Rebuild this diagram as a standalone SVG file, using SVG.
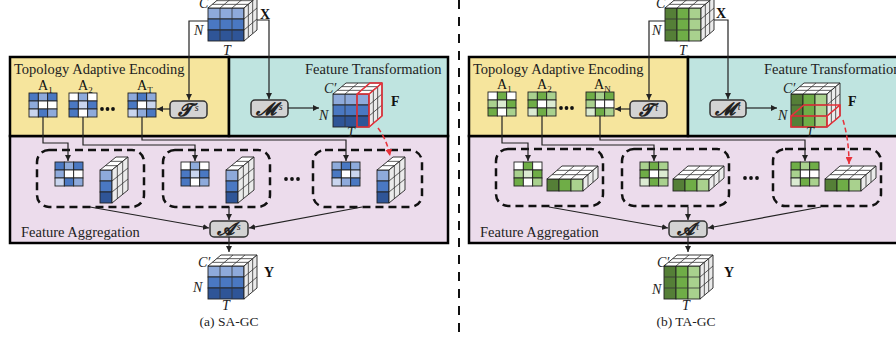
<svg xmlns="http://www.w3.org/2000/svg" xmlns:xlink="http://www.w3.org/1999/xlink" width="896" height="339" viewBox="0 0 896 339">
<style>
  .py{fill:#f6e59d;stroke:#000;stroke-width:2.5}
  .pt{fill:#bfe4e0;stroke:#000;stroke-width:2.5}
  .pp{fill:#ecdcec;stroke:#000;stroke-width:2.5}
  .ttl{font-family:"Liberation Serif",serif;font-size:14.5px;fill:#222}
  .it{font-family:"Liberation Serif",serif;font-size:14px;font-style:italic;fill:#222}
  .bd{font-family:"Liberation Serif",serif;font-size:14px;font-weight:bold;fill:#111}
  .cap{font-family:"Liberation Serif",serif;font-size:13.5px;fill:#222;text-anchor:middle}
  .am{font-family:"Liberation Serif",serif;font-size:14px;fill:#111}
  .sub{font-size:9px}
  .op{fill:#d3d3d3;stroke:#333;stroke-width:1.5}
  .opt{font-family:"DejaVu Serif","Liberation Serif",serif;font-size:18px;font-weight:bold;font-style:italic;fill:#222;text-anchor:middle}
  .sup{font-family:"Liberation Serif",serif;font-size:10px;font-weight:normal}
  .grp{fill:none;stroke:#111;stroke-width:2.5;stroke-dasharray:8 5}
  .w{fill:none;stroke:#222;stroke-width:1.2}
  .rd{fill:none;stroke:#e8313a;stroke-width:1.5;stroke-dasharray:5 3}
  .ro{fill:none;stroke:#e8313a;stroke-width:1.6}
  .g{stroke:#222;stroke-width:0.9}
  .ln{stroke:#333;stroke-width:0.8;fill:none}
  .tp{fill:#fff;stroke:#222;stroke-width:0.9}
  .sd{fill:#ebebeb;stroke:#222;stroke-width:0.9}
  .bD{fill:#2f5597}.bM{fill:#4a78c2}.bL{fill:#8eaadb}.bV{fill:#c9d5ee}
  .gD{fill:#557f37}.gM{fill:#6fad47}.gL{fill:#a9d18e}.gV{fill:#dbebd2}
  .wh{fill:#fff}
  .dot{fill:#111}
</style>
<defs>
  <marker id="ah" markerWidth="6" markerHeight="6" refX="6" refY="3" orient="auto" markerUnits="userSpaceOnUse">
    <path d="M0,0 L6,3 L0,6 Z" fill="#222"/>
  </marker>
  <marker id="ahr" markerWidth="7" markerHeight="7" refX="7" refY="3.5" orient="auto" markerUnits="userSpaceOnUse">
    <path d="M0,0 L7,3.5 L0,7 Z" fill="#e8313a"/>
  </marker>
  <!-- 3x3x3 tensor, front rows coloured (blue) -->
  <g id="cubeB">
    <rect x="0" y="0" width="36" height="11" class="bL g"/>
    <rect x="0" y="11" width="36" height="11" class="bM g"/>
    <rect x="0" y="22" width="36" height="11" class="bD g"/>
    <path class="ln" d="M12,0V33M24,0V33" stroke="#1a2a4a"/>
    <polygon class="tp" points="0,0 36,0 49,-11 13,-11"/>
    <path class="ln" d="M4.33,-3.67H40.33M8.67,-7.33H44.67M12,0L25,-11M24,0L37,-11"/>
    <polygon class="sd" points="36,0 49,-11 49,22 36,33"/>
    <path class="ln" d="M40.33,-3.67V29.33M44.67,-7.33V25.67M36,11L49,0M36,22L49,11"/>
  </g>
  <!-- 3x3x3 tensor, front columns coloured (green) -->
  <g id="cubeG">
    <rect x="0" y="0" width="12" height="33" class="gD g"/>
    <rect x="12" y="0" width="12" height="33" class="gM g"/>
    <rect x="24" y="0" width="12" height="33" class="gL g"/>
    <path class="ln" d="M0,11H36M0,22H36"/>
    <polygon class="tp" points="0,0 36,0 49,-11 13,-11"/>
    <path class="ln" d="M4.33,-3.67H40.33M8.67,-7.33H44.67M12,0L25,-11M24,0L37,-11"/>
    <polygon class="sd" points="36,0 49,-11 49,22 36,33"/>
    <path class="ln" d="M40.33,-3.67V29.33M44.67,-7.33V25.67M36,11L49,0M36,22L49,11"/>
  </g>
  <!-- vertical slice (one channel column) -->
  <g id="sliceB">
    <rect x="0" y="0" width="12" height="11" class="bL g"/>
    <rect x="0" y="11" width="12" height="11" class="bM g"/>
    <rect x="0" y="22" width="12" height="11" class="bD g"/>
    <polygon class="tp" points="0,0 12,0 28,-13 16,-13"/>
    <path class="ln" d="M5.33,-4.33H17.33M10.67,-8.67H22.67"/>
    <polygon class="sd" points="12,0 28,-13 28,20 12,33"/>
    <path class="ln" d="M17.33,-4.33V28.67M22.67,-8.67V24.33M12,11L28,-2M12,22L28,9"/>
  </g>
  <!-- horizontal slab (one joint row) -->
  <g id="sliceG">
    <rect x="0" y="0" width="12" height="12" class="gD g"/>
    <rect x="12" y="0" width="12" height="12" class="gM g"/>
    <rect x="24" y="0" width="12" height="12" class="gL g"/>
    <polygon class="tp" points="0,0 36,0 51,-13 15,-13"/>
    <path class="ln" d="M5,-4.33H41M10,-8.67H46M12,0L27,-13M24,0L39,-13"/>
    <polygon class="sd" points="36,0 51,-13 51,-1 36,12"/>
    <path class="ln" d="M41,-4.33V7.67M46,-8.67V3.33"/>
  </g>
  <!-- adjacency matrices -->
  <g id="mB1">
    <rect x="0" y="0" width="9.33" height="8" class="bM g"/><rect x="9.33" y="0" width="9.33" height="8" class="bL g"/><rect x="18.67" y="0" width="9.33" height="8" class="bM g"/>
    <rect x="0" y="8" width="9.33" height="8" class="bL g"/><rect x="9.33" y="8" width="9.33" height="8" class="wh g"/><rect x="18.67" y="8" width="9.33" height="8" class="wh g"/>
    <rect x="0" y="16" width="9.33" height="8" class="bV g"/><rect x="9.33" y="16" width="9.33" height="8" class="bM g"/><rect x="18.67" y="16" width="9.33" height="8" class="bL g"/>
  </g>
  <g id="mB2">
    <rect x="0" y="0" width="9.33" height="8" class="wh g"/><rect x="9.33" y="0" width="9.33" height="8" class="bL g"/><rect x="18.67" y="0" width="9.33" height="8" class="wh g"/>
    <rect x="0" y="8" width="9.33" height="8" class="bM g"/><rect x="9.33" y="8" width="9.33" height="8" class="bV g"/><rect x="18.67" y="8" width="9.33" height="8" class="bM g"/>
    <rect x="0" y="16" width="9.33" height="8" class="bM g"/><rect x="9.33" y="16" width="9.33" height="8" class="wh g"/><rect x="18.67" y="16" width="9.33" height="8" class="bL g"/>
  </g>
  <g id="mB3">
    <rect x="0" y="0" width="9.33" height="8" class="bL g"/><rect x="9.33" y="0" width="9.33" height="8" class="bM g"/><rect x="18.67" y="0" width="9.33" height="8" class="bL g"/>
    <rect x="0" y="8" width="9.33" height="8" class="bM g"/><rect x="9.33" y="8" width="9.33" height="8" class="wh g"/><rect x="18.67" y="8" width="9.33" height="8" class="bV g"/>
    <rect x="0" y="16" width="9.33" height="8" class="bV g"/><rect x="9.33" y="16" width="9.33" height="8" class="bL g"/><rect x="18.67" y="16" width="9.33" height="8" class="bM g"/>
  </g>
  <g id="mG1">
    <rect x="0" y="0" width="9.33" height="8" class="wh g"/><rect x="9.33" y="0" width="9.33" height="8" class="gM g"/><rect x="18.67" y="0" width="9.33" height="8" class="wh g"/>
    <rect x="0" y="8" width="9.33" height="8" class="gL g"/><rect x="9.33" y="8" width="9.33" height="8" class="gV g"/><rect x="18.67" y="8" width="9.33" height="8" class="gM g"/>
    <rect x="0" y="16" width="9.33" height="8" class="gM g"/><rect x="9.33" y="16" width="9.33" height="8" class="wh g"/><rect x="18.67" y="16" width="9.33" height="8" class="gL g"/>
  </g>
  <g id="mG2">
    <rect x="0" y="0" width="9.33" height="8" class="gL g"/><rect x="9.33" y="0" width="9.33" height="8" class="gM g"/><rect x="18.67" y="0" width="9.33" height="8" class="gL g"/>
    <rect x="0" y="8" width="9.33" height="8" class="gM g"/><rect x="9.33" y="8" width="9.33" height="8" class="wh g"/><rect x="18.67" y="8" width="9.33" height="8" class="gV g"/>
    <rect x="0" y="16" width="9.33" height="8" class="gV g"/><rect x="9.33" y="16" width="9.33" height="8" class="gM g"/><rect x="18.67" y="16" width="9.33" height="8" class="gL g"/>
  </g>
  <g id="mG3">
    <rect x="0" y="0" width="9.33" height="8" class="gM g"/><rect x="9.33" y="0" width="9.33" height="8" class="gL g"/><rect x="18.67" y="0" width="9.33" height="8" class="gM g"/>
    <rect x="0" y="8" width="9.33" height="8" class="gL g"/><rect x="9.33" y="8" width="9.33" height="8" class="wh g"/><rect x="18.67" y="8" width="9.33" height="8" class="wh g"/>
    <rect x="0" y="16" width="9.33" height="8" class="gV g"/><rect x="9.33" y="16" width="9.33" height="8" class="gM g"/><rect x="18.67" y="16" width="9.33" height="8" class="gL g"/>
  </g>
</defs>

<!-- divider between the two variants -->
<line x1="459" y1="0" x2="459" y2="339" stroke="#111" stroke-width="2" stroke-dasharray="9 8"/>

<!-- ===== (a) SA-GC ===== -->
<g id="sa-panels">
  <rect class="pp" x="10" y="136" width="438" height="107"/>
  <rect class="py" x="10" y="57" width="219" height="79"/>
  <rect class="pt" x="229" y="57" width="219" height="79"/>
  <text class="ttl" x="14" y="74">Topology Adaptive Encoding</text>
  <text class="ttl" x="305" y="74">Feature Transformation</text>
  <text class="ttl" x="21" y="237">Feature Aggregation</text>
</g>
<g id="sa-x">
  <use href="#cubeB" x="208" y="8"/>
  <text class="it" x="199" y="8">C</text>
  <text class="it" x="194" y="35">N</text>
  <text class="it" x="223" y="55">T</text>
  <text class="bd" x="260" y="19">X</text>
</g>
<g id="sa-adj">
  <use href="#mB1" x="29" y="93"/>
  <use href="#mB2" x="69" y="93"/>
  <use href="#mB3" x="128" y="93"/>
  <text class="am" x="38" y="90">A<tspan class="sub" dy="3">1</tspan></text>
  <text class="am" x="78" y="90">A<tspan class="sub" dy="3">2</tspan></text>
  <text class="am" x="137" y="90">A<tspan class="sub" dy="3">T</tspan></text>
  <circle class="dot" cx="102" cy="109" r="1.9"/><circle class="dot" cx="107.5" cy="109" r="1.9"/><circle class="dot" cx="113" cy="109" r="1.9"/>
</g>
<g id="sa-T">
  <rect class="op" x="170" y="101" width="37" height="17" rx="4"/>
  <text class="opt" x="188.5" y="115.5">𝓣<tspan class="sup" dy="-5"> s</tspan></text>
</g>
<g id="sa-M">
  <rect class="op" x="251" y="100" width="37" height="17" rx="4"/>
  <text class="opt" x="269.5" y="114.5">𝓜<tspan class="sup" dy="-5"> s</tspan></text>
</g>
<g id="sa-F">
  <use href="#cubeB" x="333" y="94"/>
  <path class="ro" d="M357,94V127H369L382,116V83H370ZM357,94H369L382,83M369,94V127"/>
  <text class="it" x="324" y="93">C′</text>
  <text class="it" x="319" y="120">N</text>
  <text class="it" x="347" y="137">T</text>
  <text class="bd" x="391" y="106">F</text>
</g>
<g id="sa-groups">
  <rect class="grp" x="37" y="150" width="107" height="57" rx="12"/>
  <rect class="grp" x="163" y="150" width="107" height="57" rx="12"/>
  <rect class="grp" x="313" y="150" width="109" height="57" rx="12"/>
  <use href="#mB1" x="55" y="162"/>
  <use href="#mB2" x="181" y="162"/>
  <use href="#mB3" x="332" y="162"/>
  <use href="#sliceB" x="100" y="170"/>
  <use href="#sliceB" x="226" y="170"/>
  <use href="#sliceB" x="377" y="170"/>
  <circle class="dot" cx="286" cy="179" r="1.9"/><circle class="dot" cx="292" cy="179" r="1.9"/><circle class="dot" cx="298" cy="179" r="1.9"/>
</g>
<g id="sa-A">
  <rect class="op" x="210" y="221" width="38" height="16" rx="4"/>
  <text class="opt" x="229" y="235">𝓐<tspan class="sup" dy="-5"> s</tspan></text>
</g>
<g id="sa-y">
  <use href="#cubeB" x="208" y="266"/>
  <text class="it" x="198" y="267">C′</text>
  <text class="it" x="193" y="292">N</text>
  <text class="it" x="222" y="310">T</text>
  <text class="cap" x="229" y="326">(a) SA-GC</text>
  <text class="bd" x="264" y="277">Y</text>
</g>

<!-- ===== (b) TA-GC ===== -->
<g id="ta-panels">
  <rect class="pp" x="469" y="136" width="441" height="107"/>
  <rect class="py" x="469" y="57" width="219" height="79"/>
  <rect class="pt" x="688" y="57" width="222" height="79"/>
  <text class="ttl" x="473" y="74">Topology Adaptive Encoding</text>
  <text class="ttl" x="764" y="74">Feature Transformation</text>
  <text class="ttl" x="480" y="237">Feature Aggregation</text>
</g>
<g id="ta-x">
  <use href="#cubeG" x="665" y="8"/>
  <text class="it" x="656" y="8">C</text>
  <text class="it" x="652" y="35">N</text>
  <text class="it" x="679" y="55">T</text>
  <text class="bd" x="716" y="18">X</text>
</g>
<g id="ta-adj">
  <use href="#mG1" x="488" y="92"/>
  <use href="#mG2" x="528" y="92"/>
  <use href="#mG3" x="586" y="92"/>
  <text class="am" x="497" y="89">A<tspan class="sub" dy="3">1</tspan></text>
  <text class="am" x="537" y="89">A<tspan class="sub" dy="3">2</tspan></text>
  <text class="am" x="594" y="89">A<tspan class="sub" dy="3">N</tspan></text>
  <circle class="dot" cx="561" cy="108" r="1.9"/><circle class="dot" cx="566.5" cy="108" r="1.9"/><circle class="dot" cx="572" cy="108" r="1.9"/>
</g>
<g id="ta-T">
  <rect class="op" x="630" y="101" width="37" height="17" rx="4"/>
  <text class="opt" x="648.5" y="115.5">𝓣<tspan class="sup" dy="-5"> t</tspan></text>
</g>
<g id="ta-M">
  <rect class="op" x="710" y="100" width="36" height="17" rx="4"/>
  <text class="opt" x="728" y="114.5">𝓜<tspan class="sup" dy="-5"> t</tspan></text>
</g>
<g id="ta-F">
  <use href="#cubeG" x="791" y="94"/>
  <path class="ro" d="M791,116V127H827L840,116V105H804ZM791,116H827L840,105M827,116V127"/>
  <text class="it" x="783" y="93">C′</text>
  <text class="it" x="778" y="120">N</text>
  <text class="it" x="806" y="137">T</text>
  <text class="bd" x="848" y="106">F</text>
</g>
<g id="ta-groups">
  <rect class="grp" x="496" y="149" width="107" height="57" rx="12"/>
  <rect class="grp" x="622" y="149" width="107" height="57" rx="12"/>
  <rect class="grp" x="773" y="149" width="108" height="57" rx="12"/>
  <use href="#mG1" x="514" y="162"/>
  <use href="#mG2" x="640" y="162"/>
  <use href="#mG3" x="791" y="162"/>
  <use href="#sliceG" x="547" y="179"/>
  <use href="#sliceG" x="673" y="179"/>
  <use href="#sliceG" x="825" y="179"/>
  <circle class="dot" cx="745" cy="178" r="1.9"/><circle class="dot" cx="751" cy="178" r="1.9"/><circle class="dot" cx="757" cy="178" r="1.9"/>
</g>
<g id="ta-A">
  <rect class="op" x="669" y="221" width="38" height="16" rx="4"/>
  <text class="opt" x="688" y="235">𝓐<tspan class="sup" dy="-5"> t</tspan></text>
</g>
<g id="ta-y">
  <use href="#cubeG" x="664" y="266"/>
  <text class="it" x="657" y="267">C′</text>
  <text class="it" x="652" y="294">N</text>
  <text class="it" x="682" y="310">T</text>
  <text class="cap" x="686" y="326">(b) TA-GC</text>
  <text class="bd" x="724" y="277">Y</text>
</g>

<!-- connectors -->
<g id="connectors">
  <path class="w" d="M208,21H189V100" marker-end="url(#ah)"/>
  <path class="w" d="M257,20H269V99" marker-end="url(#ah)"/>
  <path class="w" d="M288,108H319" marker-end="url(#ah)"/>
  <path class="w" d="M170,109H157" marker-end="url(#ah)"/>
  <path class="w" d="M43,117V143H68V161" marker-end="url(#ah)"/>
  <path class="w" d="M83,117V145H195V161" marker-end="url(#ah)"/>
  <path class="w" d="M142,117V140H346V161" marker-end="url(#ah)"/>
  <path class="rd" d="M378,128Q387,140 390,156" marker-end="url(#ahr)"/>
  <path class="w" d="M90,207L209,228" marker-end="url(#ah)"/>
  <path class="w" d="M362,207L249,228" marker-end="url(#ah)"/>
  <path class="w" d="M229,207V220" marker-end="url(#ah)"/>
  <path class="w" d="M229,237V252" marker-end="url(#ah)"/>

  <path class="w" d="M665,21H649V100" marker-end="url(#ah)"/>
  <path class="w" d="M714,20H728V99" marker-end="url(#ah)"/>
  <path class="w" d="M746,108H777" marker-end="url(#ah)"/>
  <path class="w" d="M630,109H615" marker-end="url(#ah)"/>
  <path class="w" d="M502,116V143H528V161" marker-end="url(#ah)"/>
  <path class="w" d="M542,116V145H654V161" marker-end="url(#ah)"/>
  <path class="w" d="M600,116V140H805V161" marker-end="url(#ah)"/>
  <path class="rd" d="M843,120Q849,140 849,164" marker-end="url(#ahr)"/>
  <path class="w" d="M549,207L668,228" marker-end="url(#ah)"/>
  <path class="w" d="M821,207L708,228" marker-end="url(#ah)"/>
  <path class="w" d="M688,207V220" marker-end="url(#ah)"/>
  <path class="w" d="M688,237V252" marker-end="url(#ah)"/>
</g>
</svg>
